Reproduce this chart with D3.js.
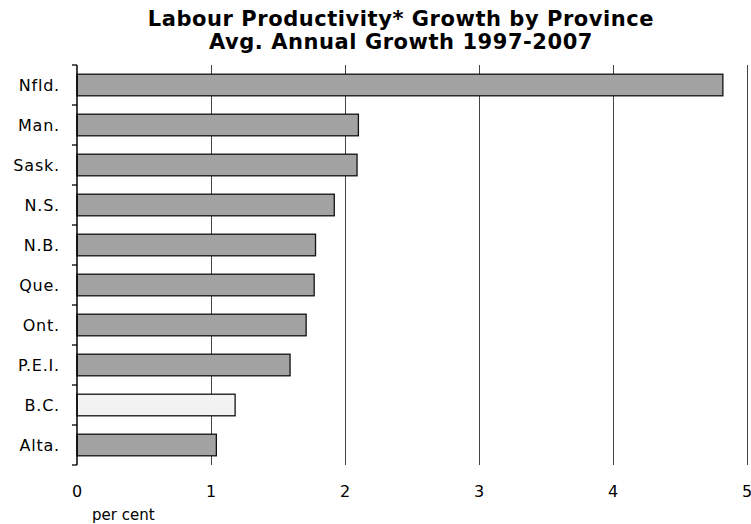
<!DOCTYPE html>
<html>
<head>
<meta charset="utf-8">
<script src="https://cdn.jsdelivr.net/npm/d3@7"></script>
<style>
  body { margin: 0; background: #fff; }
  svg { display: block; font-family: "DejaVu Sans", Verdana, sans-serif; }
</style>
</head>
<body>
<svg width="751" height="524"></svg>
<script>
const provinces = ["Nfld.", "Man.", "Sask.", "N.S.", "N.B.", "Que.", "Ont.", "P.E.I.", "B.C.", "Alta."];
const growth = [4.82, 2.10, 2.09, 1.92, 1.78, 1.77, 1.71, 1.59, 1.18, 1.04];
const highlight = ["B.C."];
const xTicks = [0, 1, 2, 3, 4, 5];
const titleLines = ["Labour Productivity* Growth by Province", "Avg. Annual Growth 1997-2007"];

const data = provinces.map((p, i) => ({ name: p, value: growth[i] }));

const svg = d3.select("svg");
const margin = { top: 65, right: 4, bottom: 59, left: 77 };
const width = 751 - margin.left - margin.right;
const height = 524 - margin.top - margin.bottom;

const x = d3.scaleLinear().domain([0, 5]).range([0, width]);
const y = d3.scaleBand().domain(provinces).range([0, height]).paddingInner(0.46).paddingOuter(0.23);

const g = svg.append("g").attr("transform", `translate(${margin.left},${margin.top})`);

// gridlines
g.append("g")
  .selectAll("line")
  .data(xTicks.filter((d) => d > 0))
  .join("line")
  .attr("x1", (d) => Math.round(x(d)) + 0.5)
  .attr("x2", (d) => Math.round(x(d)) + 0.5)
  .attr("y1", 0)
  .attr("y2", height)
  .attr("stroke", "#444")
  .attr("stroke-width", 1);

// bars
g.append("g")
  .selectAll("rect")
  .data(data)
  .join("rect")
  .attr("x", 0)
  .attr("y", (d) => y(d.name))
  .attr("width", (d) => x(d.value))
  .attr("height", y.bandwidth())
  .attr("fill", (d) => (highlight.includes(d.name) ? "#f2f2f2" : "#a3a3a3"))
  .attr("stroke", "#111")
  .attr("stroke-width", 1.3);

// y axis with ticks at band boundaries
const bounds = d3.range(provinces.length + 1).map((i) => i * height / provinces.length);
const yAxis = g.append("g");
yAxis.append("line")
  .attr("x1", 0).attr("x2", 0)
  .attr("y1", 0).attr("y2", height)
  .attr("stroke", "#000").attr("stroke-width", 1.5);
yAxis.selectAll("line.tick")
  .data(bounds)
  .join("line")
  .attr("class", "tick")
  .attr("x1", -5).attr("x2", 0)
  .attr("y1", (d) => d).attr("y2", (d) => d)
  .attr("stroke", "#000").attr("stroke-width", 1.3);
yAxis.selectAll("text")
  .data(provinces)
  .join("text")
  .attr("x", -17)
  .attr("y", (d) => y(d) + y.bandwidth() / 2)
  .attr("dy", "0.35em")
  .attr("text-anchor", "end")
  .attr("font-size", 16)
  .attr("letter-spacing", 0.8)
  .attr("fill", "#000")
  .text((d) => d);

// x tick labels
g.append("g")
  .selectAll("text")
  .data(xTicks)
  .join("text")
  .attr("x", (d) => x(d))
  .attr("y", height + 32)
  .attr("text-anchor", "middle")
  .attr("font-size", 16)
  .attr("fill", "#000")
  .text((d) => d);

g.append("text")
  .attr("x", 15)
  .attr("y", height + 55)
  .attr("font-size", 15)
  .attr("fill", "#000")
  .text("per cent");

// title
svg.append("g")
  .selectAll("text")
  .data(titleLines)
  .join("text")
  .attr("x", 401)
  .attr("y", (d, i) => 26 + i * 23)
  .attr("text-anchor", "middle")
  .attr("font-size", 21)
  .attr("font-weight", "bold")
  .attr("letter-spacing", 0.55)
  .attr("fill", "#000")
  .text((d) => d);
</script>
</body>
</html>
